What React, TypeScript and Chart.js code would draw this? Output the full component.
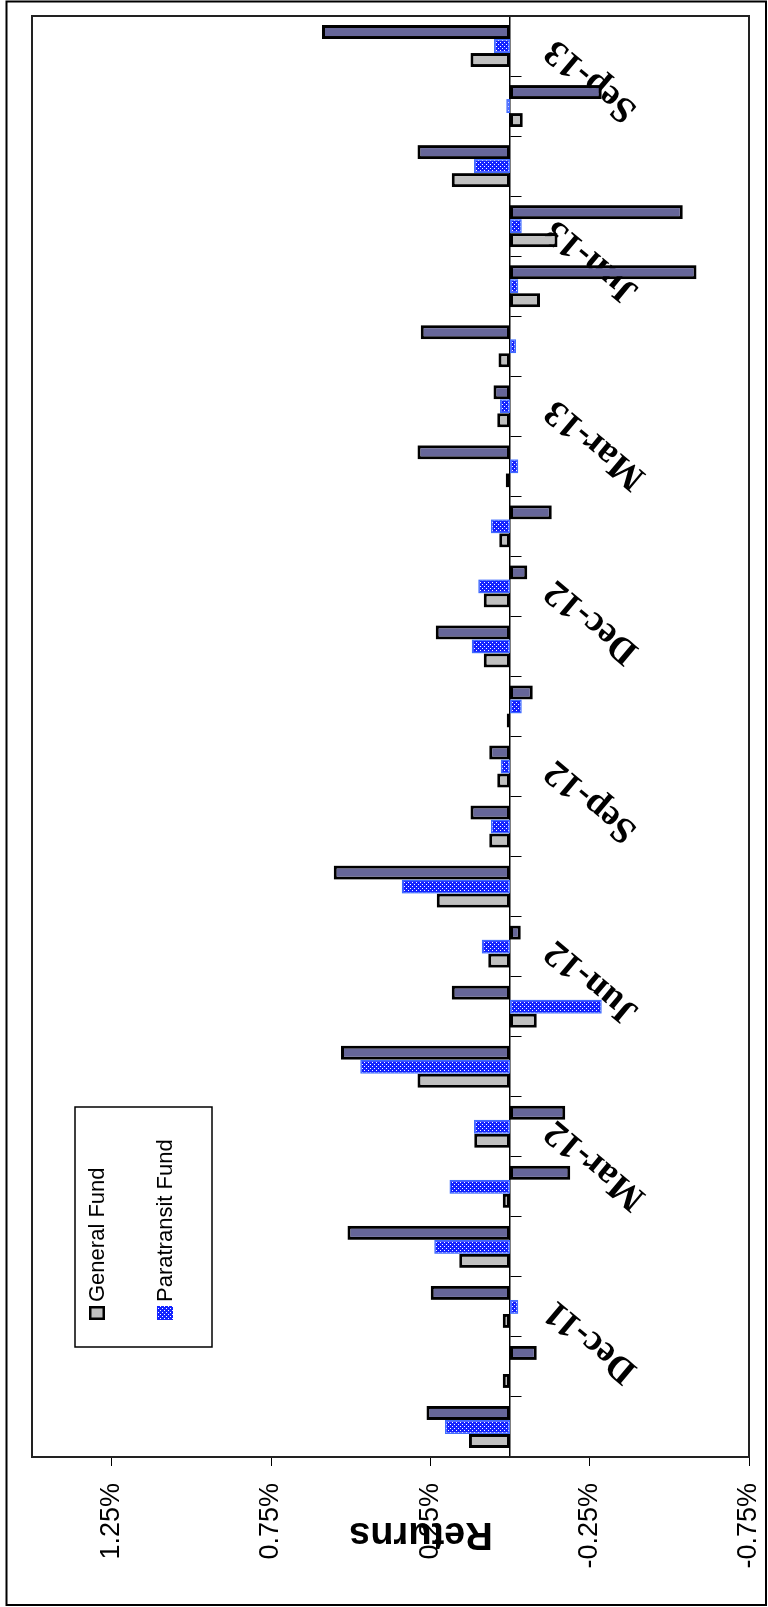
import React, { useEffect, useRef } from 'react';
import { Chart, registerables } from 'chart.js';

Chart.register(...registerables);

// Monthly categories (Oct-11 .. Sep-13)
const MONTHS = [
  'Oct-11', 'Nov-11', 'Dec-11', 'Jan-12', 'Feb-12', 'Mar-12',
  'Apr-12', 'May-12', 'Jun-12', 'Jul-12', 'Aug-12', 'Sep-12',
  'Oct-12', 'Nov-12', 'Dec-12', 'Jan-13', 'Feb-13', 'Mar-13',
  'Apr-13', 'May-13', 'Jun-13', 'Jul-13', 'Aug-13', 'Sep-13',
];

// Only quarter-end months are labelled on the category axis
const QUARTER_LABELS = ['Dec-11', 'Mar-12', 'Jun-12', 'Sep-12', 'Dec-12', 'Mar-13', 'Jun-13', 'Sep-13'];

// Returns in percent
const GENERAL_FUND = [
  0.129, 0.023, 0.023, 0.159, 0.023, 0.112,
  0.29, -0.084, 0.068, 0.23, 0.065, 0.04,
  0.01, 0.082, 0.082, 0.034, 0.013, 0.04,
  0.036, -0.094, -0.149, 0.183, -0.04, 0.124,
];

const PARATRANSIT_FUND = [
  0.204, 0.0, -0.026, 0.238, 0.19, 0.113,
  0.47, -0.288, 0.089, 0.34, 0.06, 0.029,
  -0.037, 0.12, 0.10, 0.06, -0.026, 0.031,
  -0.019, -0.026, -0.037, 0.113, 0.012, 0.05,
];

const BENCHMARK = [
  0.262, -0.084, 0.249, 0.51, -0.189, -0.173,
  0.53, 0.183, -0.034, 0.553, 0.124, 0.065,
  -0.071, 0.233, -0.054, -0.131, 0.29, 0.052,
  0.28, -0.585, -0.542, 0.29, -0.288, 0.59,
];

const VALUE_TICKS = [-0.75, -0.25, 0.25, 0.75, 1.25];
const VALUE_MIN = -0.75;
const VALUE_MAX = 1.5;
const AXIS_TITLE = 'Returns';
const LEGEND_ITEMS = ['General Fund', 'Paratransit Fund'];

const W = 1607; // canvas drawn in landscape, then rotated -90deg
const H = 768;

const SANS = '"Liberation Sans", Arial, sans-serif';
const SERIF = '"Liberation Serif", "Times New Roman", serif';

function makePattern(ctx: CanvasRenderingContext2D) {
  const c = document.createElement('canvas');
  c.width = 8;
  c.height = 8;
  const p = c.getContext('2d')!;
  p.fillStyle = '#1424ff';
  p.fillRect(0, 0, 8, 8);
  p.fillStyle = '#ffffff';
  for (let x = 0; x < 8; x++) {
    for (let y = 0; y < 8; y++) {
      if (x % 2 === 0 && y % 2 === 0 && (x + y) % 4 === 0) p.fillRect(x, y, 1, 1);
    }
  }
  return ctx.createPattern(c, 'repeat')!;
}

export default function App() {
  const ref = useRef<HTMLCanvasElement>(null);

  useEffect(() => {
    const canvas = ref.current!;
    const ctx = canvas.getContext('2d')!;
    const pattern = makePattern(ctx);

    const decor = {
      id: 'decor',
      afterDraw(chart: any) {
        const c = chart.ctx as CanvasRenderingContext2D;
        const a = chart.chartArea;
        c.save();
        // plot area border
        c.strokeStyle = '#222';
        c.lineWidth = 2;
        c.strokeRect(a.left, a.top, a.right - a.left, a.bottom - a.top);
        // outer border
        c.strokeStyle = '#000';
        c.lineWidth = 2;
        c.strokeRect(2, 6.5, 1603.5, 759.5);

        // axis title
        c.fillStyle = '#000';
        c.font = `bold 38px ${SANS}`;
        c.textAlign = 'center';
        c.textBaseline = 'middle';
        c.translate(74, 421);
        c.rotate(-Math.PI / 2);
        c.fillText(AXIS_TITLE, 0, 0);
        c.restore();

        // legend
        c.save();
        c.fillStyle = '#fff';
        c.fillRect(260, 75, 240, 137);
        c.strokeStyle = '#000';
        c.lineWidth = 1.5;
        c.strokeRect(260, 75, 240, 137);
        const ys = [97, 165];
        const fills: (string | CanvasPattern)[] = ['#c0c0c0', pattern];
        LEGEND_ITEMS.forEach((name, i) => {
          const y = ys[i];
          c.fillStyle = fills[i];
          c.fillRect(287, y - 8, 14, 16);
          if (i === 0) {
            c.strokeStyle = '#000';
            c.lineWidth = 2.5;
            c.strokeRect(288.25, y - 6.75, 11.5, 13.5);
          }
          c.fillStyle = '#000';
          c.font = `22px ${SANS}`;
          c.textAlign = 'left';
          c.textBaseline = 'middle';
          c.fillText(name, 305, y + 1);
        });
        c.restore();
      },
    };

    const chart = new Chart(ctx, {
      type: 'bar',
      data: {
        labels: MONTHS,
        datasets: [
          {
            label: 'General Fund',
            data: GENERAL_FUND,
            backgroundColor: '#c0c0c0',
            borderColor: '#000',
            borderWidth: 3,
            borderSkipped: false,
          },
          {
            label: 'Paratransit Fund',
            data: PARATRANSIT_FUND,
            backgroundColor: pattern,
            borderColor: '#3f6cff',
            borderWidth: 1.5,
            borderSkipped: false,
          },
          {
            label: 'Benchmark',
            data: BENCHMARK,
            backgroundColor: '#666699',
            borderColor: '#000',
            borderWidth: 3,
            borderSkipped: false,
          },
        ],
      },
      options: {
        responsive: false,
        maintainAspectRatio: false,
        animation: false,
        devicePixelRatio: 1,
        layout: { padding: { left: 0, top: 32, right: 16, bottom: 19 } },
        datasets: { bar: { categoryPercentage: 0.7, barPercentage: 1 } },
        plugins: { legend: { display: false }, tooltip: { enabled: false } },
        scales: {
          x: {
            position: { y: 0 } as any,
            offset: true,
            afterFit: (s: any) => {
              s.paddingLeft = 0;
              s.paddingRight = 0;
              s.paddingTop = 0;
              s.paddingBottom = 0;
            },
            grid: {
              display: true,
              drawOnChartArea: false,
              drawTicks: true,
              tickLength: 11,
              color: '#000',
              lineWidth: 1,
              offset: true,
            },
            border: { display: true, color: '#000', width: 1.5 },
            ticks: {
              autoSkip: false,
              maxRotation: 50,
              minRotation: 50,
              padding: 15,
              labelOffset: 0,
              color: '#000',
              font: { family: SERIF, size: 37, weight: 'bold' },
              callback: function (this: any, v: any) {
                const l = this.getLabelForValue(v);
                return QUARTER_LABELS.includes(l) ? l : '';
              },
            },
          },
          y: {
            min: VALUE_MIN,
            max: VALUE_MAX,
            afterBuildTicks: (s: any) => {
              s.ticks = VALUE_TICKS.map((v) => ({ value: v }));
            },
            afterFit: (s: any) => {
              s.width = 150;
              s.paddingTop = 0;
              s.paddingBottom = 0;
              s.paddingLeft = 0;
              s.paddingRight = 0;
            },
            grid: { drawOnChartArea: false, tickLength: 9, color: '#000' },
            border: { display: true, color: '#000', width: 1 },
            ticks: {
              padding: 17,
              color: '#000',
              font: { family: SANS, size: 27 },
              callback: (v: any) => Number(v).toFixed(2) + '%',
            },
          },
        },
      },
      plugins: [decor],
    } as any);

    return () => chart.destroy();
  }, []);

  return (
    <div
      style={{
        position: 'absolute',
        left: 0,
        top: 0,
        width: H,
        height: W,
        overflow: 'hidden',
        background: '#fff',
      }}
    >
      <div
        style={{
          position: 'absolute',
          left: 0,
          top: 0,
          width: W,
          height: H,
          transformOrigin: '0 0',
          transform: `translateY(${W}px) rotate(-90deg)`,
        }}
      >
        <canvas ref={ref} width={W} height={H} style={{ display: 'block', width: W, height: H }} />
      </div>
    </div>
  );
}
